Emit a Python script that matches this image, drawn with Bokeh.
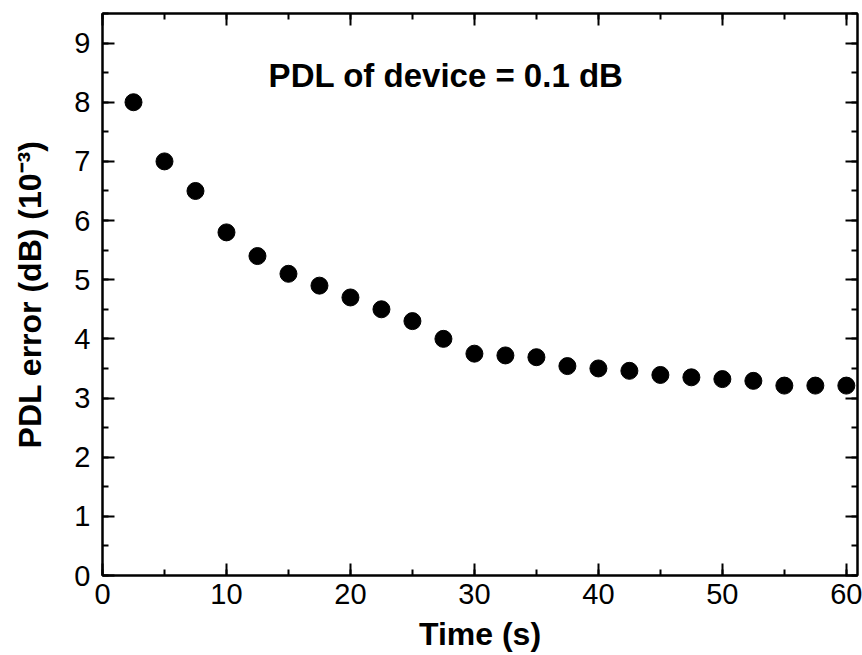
from bokeh.plotting import figure
from bokeh.models import LinearAxis, Range1d, Label, SingleIntervalTicker, CustomJSTickFormatter
from bokeh.embed import file_html
from bokeh.resources import INLINE

# Data
time_s = [2.5, 5, 7.5, 10, 12.5, 15, 17.5, 20, 22.5, 25, 27.5, 30,
          32.5, 35, 37.5, 40, 42.5, 45, 47.5, 50, 52.5, 55, 57.5, 60]
pdl_error = [8.0, 7.0, 6.5, 5.8, 5.4, 5.1, 4.9, 4.7, 4.5, 4.3, 4.0, 3.75,
             3.72, 3.69, 3.54, 3.5, 3.46, 3.39, 3.35, 3.32, 3.29, 3.21, 3.21, 3.21]
x_label = "Time (s)"
y_label = "PDL error (dB) (10\u207b\u00b3)"
annotation = "PDL of device = 0.1 dB"

FONT = "Liberation Sans"

p = figure(width=862, height=655, output_backend="svg", toolbar_location=None,
           x_range=Range1d(0, 60.9), y_range=Range1d(0, 9.5),
           x_axis_location=None, y_axis_location=None,
           min_border_left=102, min_border_right=5, min_border_top=13,
           min_border_bottom=80)
p.xgrid.visible = False
p.ygrid.visible = False
p.outline_line_color = "black"
p.outline_line_width = 2
p.background_fill_color = "white"
p.border_fill_color = "white"


def style_axis(ax, show_labels):
    ax.axis_line_width = 2
    ax.axis_line_color = "black"
    ax.major_tick_line_width = 2
    ax.minor_tick_line_width = 2
    ax.major_tick_in = 12
    ax.major_tick_out = 0
    ax.minor_tick_in = 6
    ax.minor_tick_out = 0
    ax.major_label_text_font = FONT
    if show_labels:
        ax.major_label_text_font_size = "29px"
        ax.major_label_text_color = "black"
    else:
        ax.formatter = CustomJSTickFormatter(code="return ''")
        ax.major_label_standoff = 0


xb = LinearAxis(ticker=SingleIntervalTicker(interval=10, num_minor_ticks=2))
style_axis(xb, True)
xb.major_label_standoff = 8
xb.axis_label = x_label
xb.axis_label_text_font = FONT
xb.axis_label_text_font_style = "bold"
xb.axis_label_text_font_size = "32px"
xb.axis_label_text_color = "black"
xb.axis_label_standoff = 9
p.add_layout(xb, "below")

xt = LinearAxis(ticker=SingleIntervalTicker(interval=10, num_minor_ticks=2))
style_axis(xt, False)
p.add_layout(xt, "above")

yl = LinearAxis(ticker=SingleIntervalTicker(interval=1, num_minor_ticks=2))
style_axis(yl, True)
yl.major_label_standoff = 12
yl.axis_label = y_label
yl.axis_label_text_font = FONT
yl.axis_label_text_font_style = "bold"
yl.axis_label_text_font_size = "32px"
yl.axis_label_text_color = "black"
yl.axis_label_standoff = 23
p.add_layout(yl, "left")

yr = LinearAxis(ticker=SingleIntervalTicker(interval=1, num_minor_ticks=2))
style_axis(yr, False)
p.add_layout(yr, "right")

p.scatter(time_s, pdl_error, size=17, marker="circle",
          fill_color="black", line_color="black")

p.add_layout(Label(x=13.4, y=8.45, text=annotation, text_font=FONT,
                   text_font_style="bold", text_font_size="33px",
                   text_baseline="alphabetic", text_align="left",
                   text_color="black"))

open("out.html", "w").write(file_html(p, INLINE))
